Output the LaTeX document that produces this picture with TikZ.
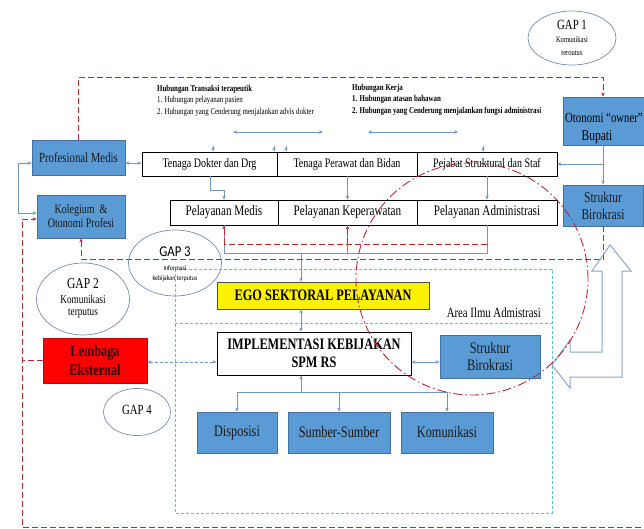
\documentclass[tikz,border=0pt]{standalone}
\usepackage{fontspec}
\setmainfont{Liberation Serif}[FakeStretch=0.77]
\newfontfamily\calib{Carlito}[FakeStretch=0.85]
\usetikzlibrary{shapes.geometric,arrows.meta}
\definecolor{bfill}{RGB}{91,155,213}
\definecolor{bdraw}{RGB}{65,113,156}
\definecolor{conn}{RGB}{112,150,192}
\definecolor{rdash}{RGB}{190,40,50}
\definecolor{cyand}{RGB}{95,190,215}
\definecolor{ellc}{RGB}{120,140,170}
\definecolor{barrow}{RGB}{140,165,192}
\definecolor{lembtxt}{RGB}{40,5,5}
\newcommand{\myfs}[2]{\fontsize{#1}{#2}\selectfont}
\begin{document}
\begin{tikzpicture}[x=1pt,y=-1pt,
  bbox/.style={draw=bdraw, fill=bfill, line width=0.8pt, inner sep=1pt, align=center, text=black!90},
  wbox/.style={draw=black, fill=white, line width=0.8pt, inner sep=1pt, align=center},
  cline/.style={draw=conn, line width=0.8pt},
  carr/.style={cline, -{Stealth[length=4pt,width=3.5pt]}},
  cdbl/.style={cline, {Stealth[length=4pt,width=3.5pt]}-{Stealth[length=4pt,width=3.5pt]}},
  rline/.style={draw=rdash, line width=0.9pt, dash pattern=on 6pt off 3pt},
  rarr/.style={rline, -{Stealth[length=4pt,width=3.5pt]}},
  cyline/.style={draw=cyand, line width=0.9pt, dash pattern=on 3pt off 2pt},
  gap/.style={draw=ellc, ellipse, line width=0.7pt, inner sep=0pt},
  lbl/.style={inner sep=0pt}
]
\useasboundingbox (0,0) rectangle (644,529);
\clip (0,0) rectangle (644,529);

% coordinates
\coordinate (py) at (0,163);
\coordinate (ox) at (603,0);
\coordinate (rt) at (0,77);
\coordinate (rm) at (0,259);
\coordinate (lx) at (18,0);
\coordinate (rx) at (22,0);
\coordinate (kby) at (0,213);
\coordinate (kry) at (0,219);
\coordinate (bot) at (0,527);
\coordinate (br) at (650,527);
\coordinate (cx) at (301,0);
\coordinate (my) at (0,253);
\coordinate (ry) at (0,244);
\coordinate (k1) at (210,190);
\coordinate (cy) at (0,362);
\coordinate (hb) at (301,392);
\coordinate (h1a) at (233,132);
\coordinate (h1b) at (323,132);
\coordinate (h2a) at (368,132);
\coordinate (h2b) at (458,132);
\coordinate (t1) at (213,146);
\coordinate (t2) at (274,146);
\coordinate (t3) at (286,146);
\coordinate (t4) at (483,146);

% cyan area
\draw[cyline] (175,269) rectangle (552,513);
\draw[cyline] (175,323) -- (552,323);
\node[lbl, anchor=east, font=\myfs{14}{16}] (area) at (541,313) {Area Ilmu Admistrasi};

% boxes
\node[bbox, minimum width=93pt, minimum height=35pt, font=\myfs{14}{15}] (prof) at (78.5,157.5) {Profesional Medis};
\node[bbox, minimum width=88pt, minimum height=43pt, font=\myfs{13}{14}] (kol) at (81,216.5) {Kolegium\ \ \&\\Otonomi Profesi};
\node[wbox, minimum width=135pt, minimum height=24pt, font=\myfs{13}{15}] (tdok) at (209.5,164) {Tenaga Dokter dan Drg};
\node[wbox, minimum width=140pt, minimum height=24pt, font=\myfs{13}{15}] (tper) at (347,164) {Tenaga Perawat dan Bidan};
\node[wbox, minimum width=140pt, minimum height=24pt, font=\myfs{13}{15}] (pej) at (487,164) {Pejabat Struktural dan Staf};
\node[wbox, minimum width=108pt, minimum height=25pt, font=\myfs{14.5}{16}] (pmed) at (224,212.5) {Pelayanan Medis};
\node[wbox, minimum width=139pt, minimum height=25pt, font=\myfs{14.5}{16}] (pkep) at (347.5,212.5) {Pelayanan Keperawatan};
\node[wbox, minimum width=140pt, minimum height=25pt, font=\myfs{14.5}{16}] (padm) at (487,212.5) {Pelayanan Administrasi};
\node[bbox, minimum width=117pt, minimum height=48pt] (oton) at (621.5,121) {};
\node[lbl, anchor=west, font=\myfs{14}{16}] (otona) at (565,118) {Otonomi “owner”};
\node[lbl, font=\myfs{15}{17}] (otonb) at (597,137) {Bupati};
\node[bbox, minimum width=80pt, minimum height=41pt, font=\myfs{15}{17}] (struk1) at (603,205.5) {Struktur\\Birokrasi};
\node[draw=black!70, fill=yellow, line width=0.8pt, minimum width=212pt, minimum height=27pt, font=\bfseries\myfs{16}{18}] (ego) at (323,295.5) {EGO SEKTORAL PELAYANAN};
\node[wbox, minimum width=194pt, minimum height=43pt, font=\bfseries\myfs{16}{18}] (impl) at (314,353.5) {IMPLEMENTASI KEBIJAKAN\\SPM RS};
\node[bbox, minimum width=100pt, minimum height=43pt, font=\myfs{16}{17}] (struk2) at (490,356.5) {Struktur\\Birokrasi};
\node[draw=red!80!black, fill=red, line width=0.6pt, minimum width=104pt, minimum height=45pt, align=center, text=lembtxt, font=\bfseries\myfs{16}{19}] (lemb) at (95,360.5) {Lembaga\\Eksternal};
\node[bbox, minimum width=80pt, minimum height=41pt, font=\myfs{16}{18}] (disp) at (237,432.5) {Disposisi};
\node[bbox, minimum width=102pt, minimum height=41pt, font=\myfs{16}{18}] (sumb) at (339,432.5) {Sumber-Sumber};
\node[bbox, minimum width=92pt, minimum height=41pt, font=\myfs{16}{18}] (komu) at (447,432.5) {Komunikasi};

% header texts
\node[lbl, anchor=north west, align=left, font=\myfs{9}{11.5}] (hub1) at (157,85) {\textbf{Hubungan Transaksi terapeutik}\\1. Hubungan pelayanan pasien\\2. Hubungan yang Cenderung menjalankan advis dokter};
\node[lbl, anchor=north west, align=left, font=\bfseries\myfs{9}{11.5}] (hub2) at (352,84) {Hubungan Kerja\\1. Hubungan atasan bahawan\\2. Hubungan yang Cenderung menjalankan fungsi administrasi};
\draw[cdbl] (h1a) -- (h1b);
\draw[cdbl] (h2a) -- (h2b);

% gap ellipses
\node[gap, minimum width=88pt, minimum height=54pt] (gap1) at (572,38) {};
\node[lbl, font=\myfs{14}{16}] (g1a) at (572,25) {GAP 1};
\node[lbl, font=\myfs{8.5}{10}] (g1b) at (572,40) {Komunikasi};
\node[lbl, font=\myfs{8.5}{10}] (g1c) at (572,53) {teroutus};
\node[gap, minimum width=93pt, minimum height=72pt] (gap2) at (83,299) {};
\node[lbl, font=\myfs{15}{16}] (g2a) at (83,284) {GAP 2};
\node[lbl, font=\myfs{12}{14}] (g2b) at (83,299) {Komunikasi};
\node[lbl, font=\myfs{12}{14}] (g2c) at (83,313) {terputus};
\node[gap, minimum width=93pt, minimum height=66pt] (gap3) at (175,263) {};
\node[lbl, font=\calib\myfs{15}{16}] (g3a) at (175,252) {GAP 3};
\node[lbl, font=\calib\myfs{7}{8}] (g3b) at (175,268) {Informasi};
\node[lbl, font=\calib\myfs{7}{8}] (g3c) at (175,279) {kebijakan terputus};
\node[gap, minimum width=67pt, minimum height=47pt] (gap4) at (137,412) {};
\node[lbl, font=\myfs{14}{16}] (g4a) at (137,410) {GAP 4};

% blue connectors
\draw[cdbl] (prof.east |- py) -- (tdok.west |- py);
\draw[cline, {Stealth[length=4pt,width=3.5pt]}-{Stealth[length=4pt,width=3.5pt]}] (kol.west |- kby) -- (lx |- kby) -- (lx |- py) -- (prof.west |- py);
\draw[carr] (k1 |- tdok.south) -- (k1) -| (pmed.north);
\draw[carr] (pkep.north |- tper.south) -- (pkep.north);
\draw[carr] (pej.south) -- (padm.north);
\draw[cline] (pmed.south) -- (pmed.south |- my) -- (padm.south |- my) -- (padm.south);
\draw[cline] (pkep.south) -- (pkep.south |- my);
\draw[carr] (cx |- my) -- (ego.north -| cx);
\draw[cdbl] (ego.south -| cx) -- (impl.north -| cx);
\draw[cdbl] (impl.east |- cy) -- (struk2.west |- cy);
\draw[cdbl, dash pattern=on 3pt off 2pt] (lemb.east |- cy) -- (impl.west |- cy);
\draw[carr] (hb) -- (hb |- impl.south);
\draw[cline] (disp.north |- hb) -- (komu.north |- hb);
\draw[carr] (disp.north |- hb) -- (disp.north);
\draw[carr] (sumb.north |- hb) -- (sumb.north);
\draw[carr] (komu.north |- hb) -- (komu.north);
\draw[cline] (oton.south -| ox) -- (ox |- pej.east);
\draw[carr] (ox |- pej.east) -- (struk1.north);
\draw[carr] (ox |- pej.east) -- (pej.east);
\draw[carr] (t1) -- (t1 |- tdok.north);
\draw[carr] (t2) -- (t2 |- tdok.north);
\draw[carr] (t3) -- (t3 |- tdok.north);
\draw[carr] (t4) -- (t4 |- pej.north);

% red dashed connectors
\draw[rarr] (prof.north) -- (prof.north |- rt) -- (ox |- rt) -- (oton.north -| ox);
\draw[rarr] (struk1.south) -- (struk1.south |- rm) -- (kol.south |- rm) -- (kol.south);
\draw[rline] (padm.south |- ry) -- (pmed.south |- ry);
\draw[rarr] (pmed.south |- ry) -- (pmed.south);
\draw[rarr] (pkep.south |- ry) -- (pkep.south);
\draw[rarr] (br) -- (rx |- bot) -- (rx |- kry) -- (kol.west |- kry);
\draw[rline] (lemb.west) -- (rx |- lemb.west);

% block arrow
\draw[draw=barrow, line width=1pt, line join=miter]
  (610,245) -- (631,271) -- (622,271) -- (622,377) -- (570,377) -- (570,388)
  -- (552,365) -- (570,340) -- (570,352) -- (602,352) -- (602,271) -- (592,271) -- cycle;

% red dash-dot circle
\draw[draw=rdash, line width=0.9pt, dash pattern=on 9pt off 3pt on 1.5pt off 3pt] (472,279) circle (116pt);
\end{tikzpicture}
\end{document}
